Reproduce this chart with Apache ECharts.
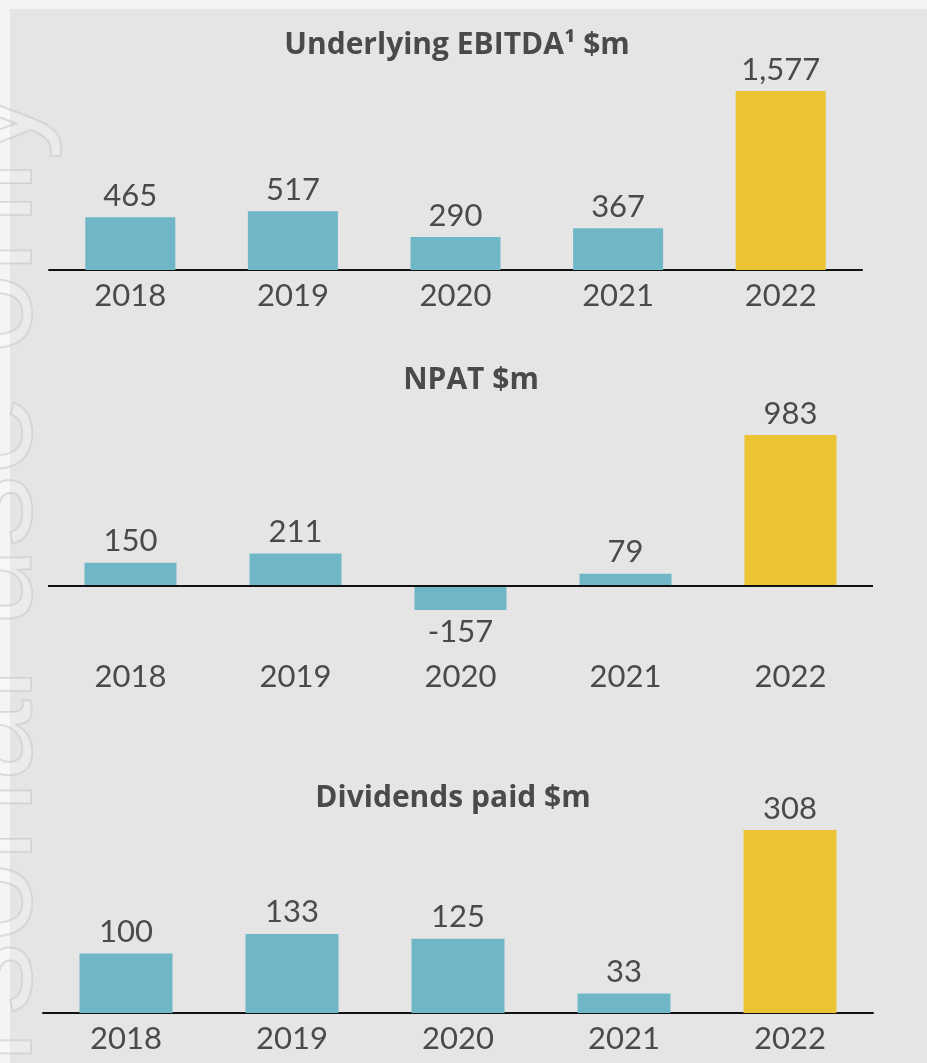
<!DOCTYPE html>
<html>
<head>
<meta charset="utf-8">
<script src="https://cdn.jsdelivr.net/npm/echarts@6/dist/echarts.min.js"></script>
<style>
  html, body { margin: 0; padding: 0; background: #f4f4f4; }
  #chart { width: 927px; height: 1063px; }
</style>
</head>
<body>
<div id="chart"></div>
<script>
// data
const years = ['2018', '2019', '2020', '2021', '2022'];
const ebitda = [465, 517, 290, 367, 1577];
const npat = [150, 211, -157, 79, 983];
const dividends = [100, 133, 125, 33, 308];
const titles = ['Underlying EBITDA¹ $m', 'NPAT $m', 'Dividends paid $m'];
const watermark = 'For personal use only';

// colours
const TEAL = '#6fb7c7';
const GOLD = '#ebc333';
const TEXT = '#4a4a4a';
const FONT = 'Lato, "Noto Sans", sans-serif';
const TITLE_FONT = '"Open Sans", "Noto Sans", sans-serif';

// one panel per metric
const panels = [
  { values: ebitda, grid: { left: 49, right: 65, top: 91, bottom: 793 }, barWidth: 90, titleX: 457, titleY: 30, labelMargin: 10 },
  { values: npat, grid: { left: 48, right: 54, top: 435, bottom: 453 }, barWidth: 92, titleX: 471, titleY: 365, labelMargin: 51 },
  { values: dividends, grid: { left: 43, right: 54, top: 830, bottom: 50 }, barWidth: 93, titleX: 453, titleY: 783, labelMargin: 10 }
];

const chart = echarts.init(document.getElementById('chart'), null, { renderer: 'canvas' });

const grids = [], xAxes = [], yAxes = [], series = [];
panels.forEach((p, i) => {
  const hasNeg = p.values.some(v => v < 0);
  grids.push(p.grid);
  xAxes.push({
    type: 'category',
    gridIndex: i,
    data: years,
    axisTick: { show: false },
    axisLine: { show: !hasNeg, onZero: false, lineStyle: { color: '#111', width: 2 } },
    axisLabel: { color: TEXT, fontFamily: FONT, fontSize: 31, margin: p.labelMargin }
  });
  yAxes.push({
    type: 'value',
    gridIndex: i,
    min: Math.min(0, ...p.values),
    max: Math.max(...p.values),
    show: false,
    splitLine: { show: false }
  });
  series.push({
    type: 'bar',
    xAxisIndex: i,
    yAxisIndex: i,
    barWidth: p.barWidth,
    data: p.values.map(v => ({
      value: v,
      label: { position: v < 0 ? 'bottom' : 'top' }
    })),
    itemStyle: {
      color: params => (params.dataIndex === years.length - 1 ? GOLD : TEAL)
    },
    label: {
      show: true,
      distance: 6,
      color: TEXT,
      fontFamily: FONT,
      fontSize: 31,
      formatter: params => params.value.toLocaleString('en-US')
    },
    markLine: hasNeg ? {
      silent: true,
      symbol: 'none',
      label: { show: false },
      lineStyle: { color: '#111', width: 2, type: 'solid' },
      data: [{ yAxis: 0 }]
    } : undefined
  });
});

const graphics = [
  { type: 'rect', z: -10, shape: { x: 10, y: 9, width: 917, height: 1054 }, style: { fill: '#e4e5e4' } },
  {
    type: 'text',
    z: -5,
    x: -9,
    y: 88,
    rotation: Math.PI / 2,
    style: {
      text: watermark,
      font: '145px "Liberation Sans", Arial, sans-serif',
      align: 'right',
      verticalAlign: 'middle',
      fill: 'rgba(255,255,255,0.25)',
      stroke: 'rgba(195,195,195,0.6)',
      lineWidth: 2
    }
  }
];
panels.forEach((p, i) => {
  graphics.push({
    type: 'text',
    x: p.titleX,
    y: p.titleY,
    style: {
      text: titles[i],
      font: 'bold 30px ' + TITLE_FONT,
      align: 'center',
      verticalAlign: 'top',
      fill: TEXT
    }
  });
});

chart.setOption({
  animation: false,
  backgroundColor: '#f4f4f4',
  graphic: graphics,
  grid: grids,
  xAxis: xAxes,
  yAxis: yAxes,
  series: series
});
</script>
</body>
</html>
